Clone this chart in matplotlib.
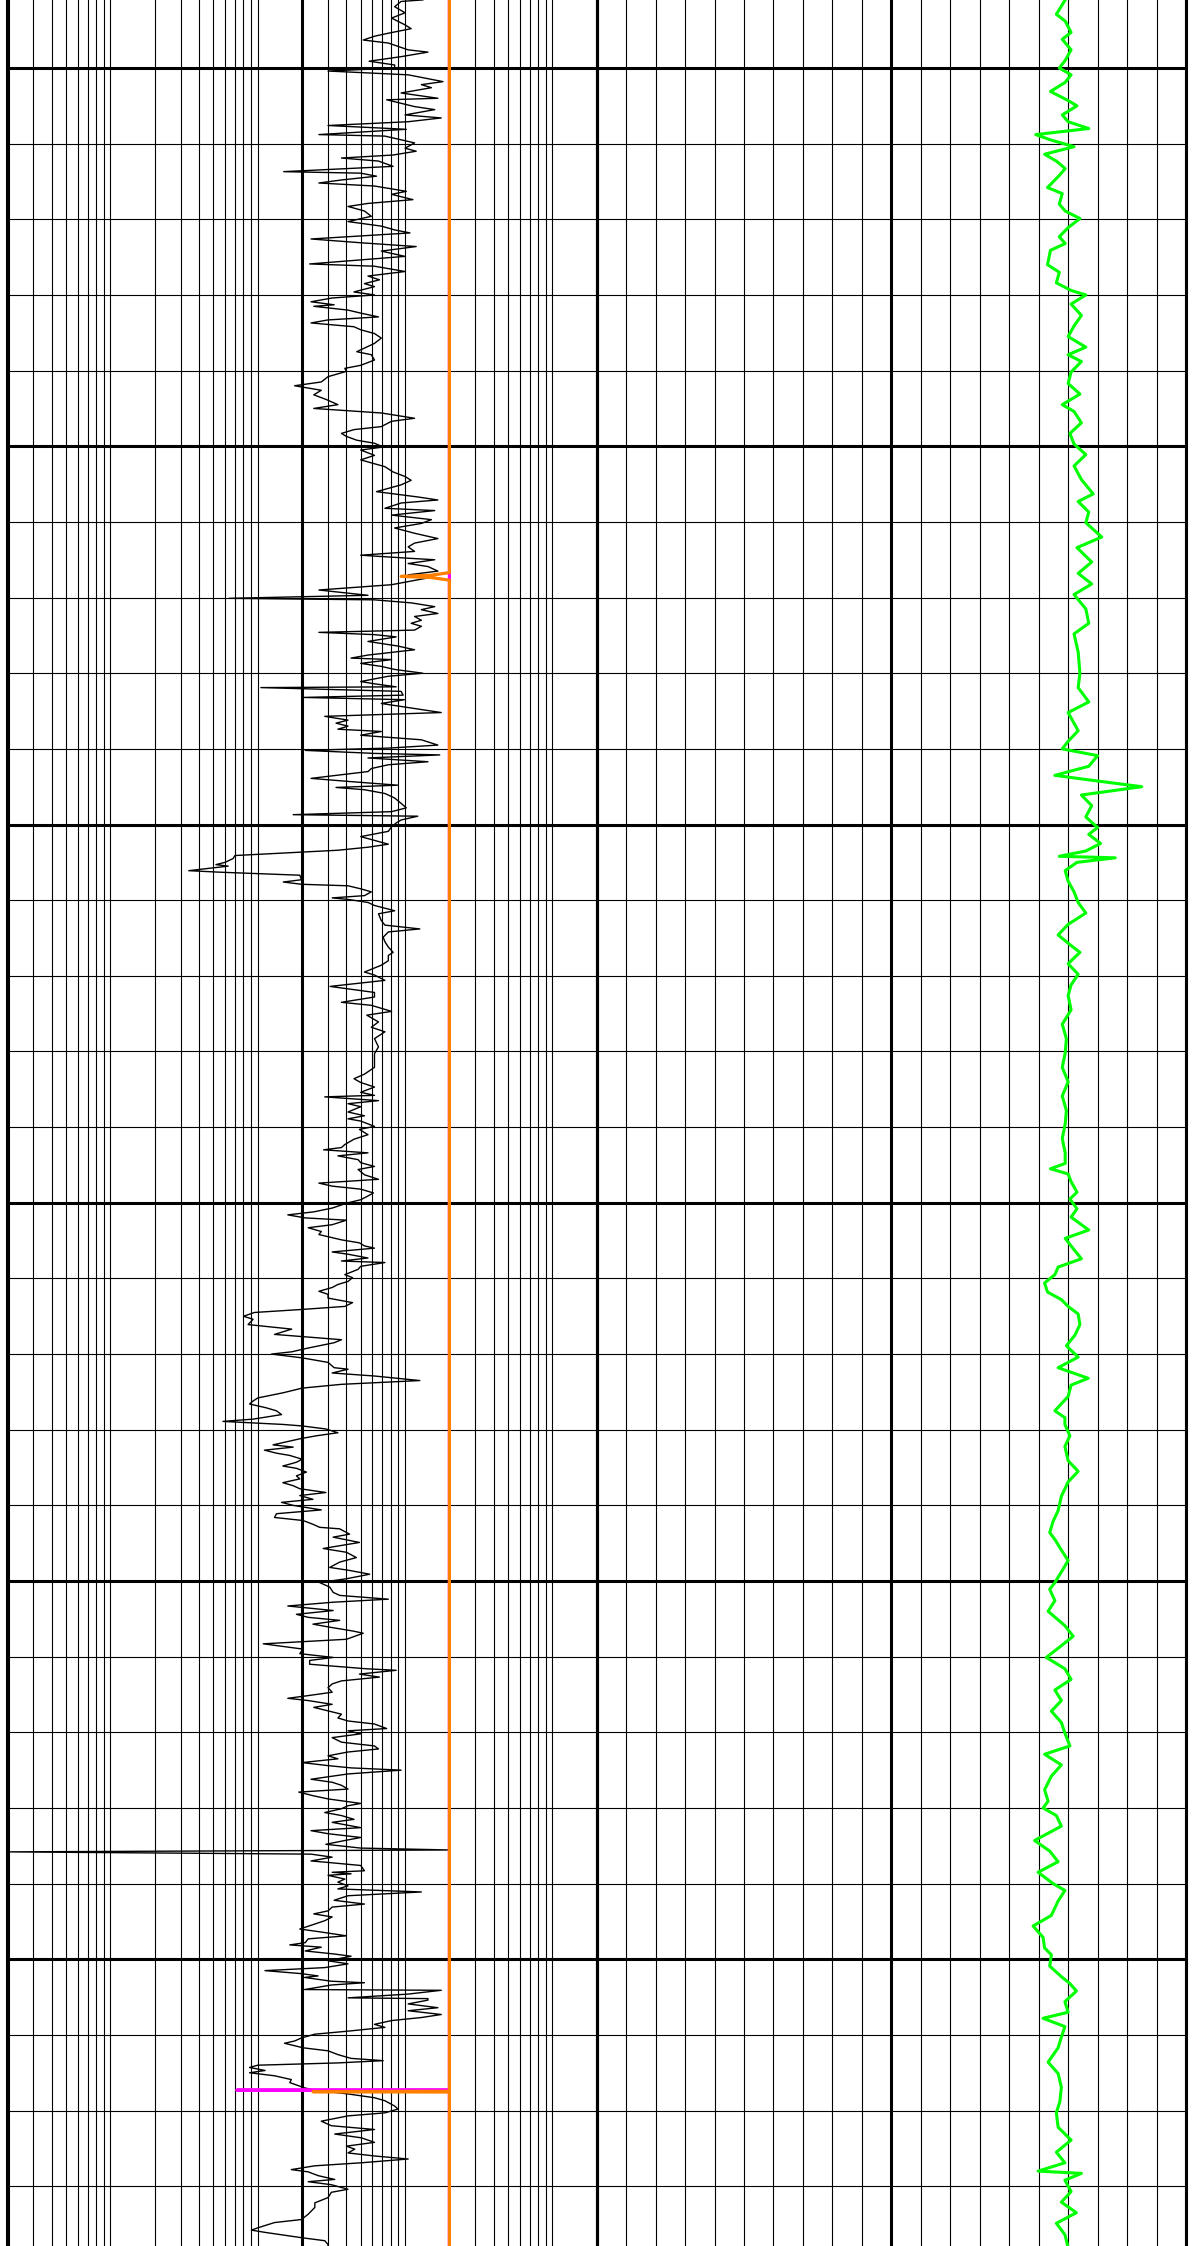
import matplotlib
matplotlib.use("Agg")
import matplotlib.pyplot as plt
from matplotlib.ticker import FixedLocator, NullFormatter

# ---------------- data ----------------
# Resistivity-type curve (log track, black)
res_depth = [
    4.10, 4.12, 4.19, 4.27, 4.34, 4.43, 4.48, 4.54, 4.58, 4.63, 4.67, 4.76, 4.79, 4.85, 4.91, 4.96,
    5.00, 5.04, 5.09, 5.18, 5.22, 5.26, 5.33, 5.40, 5.42, 5.51, 5.55, 5.62, 5.66, 5.71, 5.76, 5.81,
    5.88, 5.90, 5.99, 6.06, 6.10, 6.15, 6.19, 6.23, 6.30, 6.37, 6.39, 6.43, 6.48, 6.52, 6.56, 6.63,
    6.67, 6.74, 6.79, 6.83, 6.89, 6.96, 7.03, 7.09, 7.14, 7.18, 7.26, 7.31, 7.36, 7.42, 7.49, 7.59,
    7.62, 7.69, 7.75,
    7.80, 7.85, 7.89, 7.96, 8.00, 8.04, 8.09, 8.13, 8.15, 8.20, 8.24, 8.29, 8.33, 8.37, 8.42, 8.46,
    8.51, 8.57, 8.64, 8.68, 8.75, 8.79, 8.86, 8.93, 8.97, 9.01, 9.08, 9.15, 9.20, 9.26, 9.32, 9.38,
    9.45, 9.50, 9.56, 9.63, 9.67, 9.74, 9.78, 9.83, 9.87, 9.92, 9.96, 10.01, 10.05, 10.12, 10.18,
    10.27, 10.34, 10.40, 10.45, 10.51, 10.60, 10.67, 10.71, 10.75, 10.82, 10.85, 10.91, 10.97,
    11.02, 11.08, 11.15, 11.22, 11.28, 11.33, 11.39, 11.44, 11.48,
    11.50, 11.55, 11.59, 11.65, 11.70, 11.74, 11.83, 11.90, 11.97, 12.01, 12.03, 12.07, 12.12,
    12.16, 12.21, 12.25, 12.30, 12.34, 12.38, 12.43, 12.46, 12.49, 12.52, 12.58, 12.64, 12.69,
    12.76, 12.80, 12.82, 12.87, 12.91, 12.95, 13.00, 13.04, 13.11, 13.14, 13.18, 13.19, 13.24,
    13.29, 13.32, 13.35, 13.40, 13.44, 13.52, 13.57, 13.62, 13.66, 13.70, 13.74, 13.77, 13.82,
    13.88, 13.95, 13.99, 14.02, 14.06, 14.08, 14.12, 14.17, 14.21, 14.26, 14.30, 14.39, 14.43,
    14.48, 14.51, 14.54, 14.59, 14.65, 14.72, 14.78, 14.83, 14.87, 14.89, 14.94, 14.98, 15.03,
    15.09, 15.16,
    15.21, 15.26, 15.30, 15.34, 15.41, 15.45, 15.50, 15.53, 15.55, 15.61, 15.63, 15.67, 15.73,
    15.76, 15.79, 15.81, 15.85, 15.89, 15.94, 15.97, 15.99, 16.03, 16.07, 16.14, 16.18, 16.27,
    16.33, 16.38, 16.42, 16.49, 16.55, 16.62, 16.69, 16.73, 16.80, 16.86, 16.95, 16.99, 17.06,
    17.14, 17.22, 17.28, 17.35, 17.39, 17.47, 17.52, 17.61, 17.68, 17.74, 17.83, 17.94, 18.03,
    18.12, 18.21, 18.30, 18.36, 18.41, 18.47, 18.54, 18.58, 18.60, 18.65, 18.69, 18.73, 18.80,
    18.85, 18.89,
    18.92, 18.99, 19.03, 19.10, 19.16, 19.23, 19.27, 19.30, 19.34, 19.38, 19.43, 19.47, 19.52,
    19.56, 19.63, 19.69, 19.74, 19.78, 19.82, 19.87, 19.91, 19.96, 20.00, 20.07, 20.12, 20.16,
    20.20, 20.23, 20.29, 20.33, 20.38, 20.42, 20.49, 20.53, 20.57, 20.60, 20.65, 20.68, 20.73,
    20.77, 20.79, 20.84, 20.88, 20.95, 20.99, 21.04, 21.08, 21.12, 21.17, 21.21, 21.26, 21.32,
    21.37, 21.41, 21.45, 21.50, 21.54, 21.61, 21.67, 21.74, 21.81, 21.85, 21.92, 21.97, 22.00,
    22.05, 22.11, 22.18, 22.20, 22.25, 22.29, 22.35, 22.40, 22.45, 22.51, 22.58,
    22.62, 22.66, 22.71, 22.75, 22.80, 22.86, 22.89, 22.93, 22.95, 22.99, 23.04, 23.08, 23.12,
    23.17, 23.20, 23.23, 23.27, 23.31, 23.34, 23.39, 23.43, 23.48, 23.51, 23.56, 23.61, 23.65,
    23.70, 23.74, 23.78, 23.83, 23.87, 23.92, 23.96, 24.00, 24.06, 24.11, 24.16, 24.20, 24.25,
    24.29, 24.31, 24.38, 24.42, 24.49, 24.57, 24.62, 24.69, 24.75, 24.82, 24.86, 24.91, 24.97,
    25.02, 25.08, 25.15, 25.19, 25.24, 25.28, 25.33, 25.39, 25.44, 25.48, 25.52, 25.57, 25.61,
    25.66, 25.69, 25.77, 25.83, 25.90, 25.96, 26.01, 26.05, 26.10, 26.16, 26.18, 26.23, 26.27,
    26.32, 26.36, 26.41, 26.47, 26.52, 26.55, 26.58, 26.63, 26.67, 26.71, 26.76, 26.81, 26.85,
    26.89, 26.95, 26.98, 27.02, 27.07, 27.13, 27.18, 27.22, 27.26, 27.31, 27.35, 27.40, 27.44,
    27.47, 27.50, 27.55, 27.62, 27.66, 27.70, 27.75, 27.79, 27.84, 27.88, 27.94, 27.97, 28.01,
    28.06, 28.10, 28.15, 28.19, 28.26, 28.30, 28.34, 28.39, 28.43, 28.48, 28.53, 28.555, 28.58,
    28.61, 28.65, 28.70, 28.72, 28.76, 28.83, 28.85, 28.87, 28.89, 28.94, 28.98, 29.03, 29.07,
    29.11, 29.16, 29.22, 29.27, 29.31, 29.36, 29.40, 29.44, 29.49, 29.55, 29.60, 29.64, 29.69,
    29.73, 29.78, 29.81, 29.84, 29.89, 29.93, 29.96,
    30.02, 30.06, 30.11, 30.15, 30.19, 30.22, 30.24, 30.29, 30.31, 30.34, 30.37, 30.40, 30.41,
    30.44, 30.46, 30.51, 30.52, 30.54, 30.59, 30.64, 30.68, 30.73, 30.77, 30.81, 30.86, 30.90,
    30.95, 30.99, 31.04, 31.08, 31.11, 31.17, 31.21, 31.26, 31.31, 31.34, 31.37, 31.40, 31.43,
    31.47, 31.50, 31.54, 31.59, 31.63, 31.70, 31.73, 31.78, 31.83, 31.87, 31.94, 31.98, 32.03,
    32.07, 32.14, 32.20, 32.25, 32.31, 32.36, 32.42, 32.47, 32.51, 32.56, 32.60, 32.64, 32.69,
    32.73, 32.78, 32.81, 32.86, 32.91, 32.94, 32.98, 33.04, 33.08, 33.15, 33.22, 33.28, 33.37,
    33.44, 33.48, 33.55, 33.58, 33.61, 33.68, 33.72, 33.77, 33.85,
]
res_value = [
    132, 94, 85, 100, 81, 100, 110, 77, 62, 52, 77, 105, 143, 94, 57, 85,
    85, 30, 105, 181, 129, 151, 94, 167, 75, 116, 159, 100, 176, 105, 30, 102,
    26, 73, 116, 100, 119, 83, 37, 66, 83, 15, 50, 64, 37, 26, 62, 102,
    81, 113, 56, 41, 53, 59, 41, 69, 85, 108, 23, 50, 119, 69, 100, 22.5,
    62, 100, 56,
    67, 53, 62, 45, 62, 32, 23, 33, 24, 41, 50, 66, 30, 23, 45, 50,
    62, 69, 62, 56, 47, 59, 62, 50, 39, 40, 30, 27, 17.8, 27, 24, 29,
    35, 24, 69, 116, 81, 69, 45, 37, 40, 47, 62, 71, 50, 62, 50,
    73, 83, 100, 110, 94, 64, 122, 167, 94, 73, 159, 81, 151,
    129, 85, 116, 167, 116, 105, 116, 50, 105,
    159, 105, 143, 167, 105, 143, 81, 26, 56, 6.4, 62, 110, 159,
    129, 167, 116, 129, 110, 129, 116, 26, 62, 87, 56, 89, 116,
    56, 43, 81, 50, 69, 85, 132, 77, 50, 62, 87, 10.5, 94,
    97, 20.3, 99, 69, 94, 176, 28.5, 41, 34, 41, 35, 69, 50,
    129, 167, 77, 21, 62, 172, 56, 143, 77, 59, 56, 23, 41,
    89, 34, 53, 73, 85, 94, 102, 81, 17.4, 122, 94, 87, 81,
    77, 50,
    62, 77, 56, 35, 7.0, 6.8, 6.0, 5.2, 6.3, 3.4, 5.5, 19.3, 19.8,
    14.9, 19.8, 41, 50, 59, 53, 32, 41, 56, 62, 85, 66, 69,
    73, 126, 77, 71, 73, 77, 83, 77, 77, 69, 53, 62, 73,
    31, 62, 62, 37, 59, 81, 55, 66, 59, 73, 62, 66, 62,
    62, 62, 53, 45, 50, 62, 50, 62, 28.5, 66, 41, 50, 41,
    53, 41,
    50, 62, 49, 56, 45, 39, 37, 28, 56, 35, 48, 50, 62,
    48, 53, 66, 26, 32, 50, 61, 56, 50, 41, 32, 24, 16,
    21, 40, 32, 22, 27, 26, 37, 49, 53, 62, 32, 41, 56,
    37, 73, 50, 48, 39, 44, 41, 35, 32, 26, 30, 30, 44,
    39, 20, 9.5, 8.0, 9.3, 8.6, 17, 13, 37, 33, 22, 17, 12.4,
    20, 30, 33, 41, 32, 62, 126, 37, 20, 15, 10,
    9.3, 8.8, 11.4, 13.4, 14.5, 9.3, 5.8, 14.8, 20, 29, 35, 25, 19.3,
    14.8, 12.7, 17.4, 11.1, 13.4, 16.5, 20, 18.3, 14.8, 18.3, 21.4, 18.3, 19.3,
    14.8, 17.4, 19.3, 29, 19.3, 23.7, 14.5, 17.4, 27, 13.4, 13.0, 20.3, 23.7,
    26.3, 36, 42, 32.5, 49, 27.8, 40, 46.7, 36, 30.8, 42, 57.5, 40,
    26.3, 30.8, 32.5, 36, 77, 32.5, 16, 32.5, 18.3, 22, 36, 23.7, 30.8,
    44, 52, 40, 10.9, 20.3, 19.3, 32.5, 22.5, 22.5, 54.7, 87, 49, 67,
    37, 32, 30, 32, 21, 16, 22, 32, 24, 29, 37, 35, 41,
    62, 75, 41, 50, 32, 37, 62, 66, 41, 30, 35, 20, 30,
    43, 94, 41, 23, 32, 37, 41, 19, 24, 30, 50, 41, 37,
    28.5, 37, 45, 32, 50, 23, 30, 50, 39, 29, 50, 200, 0.2,
    23, 32, 23, 30, 50, 53, 32, 43, 30, 39, 35, 41, 35,
    129, 41, 33, 53, 32, 30, 24, 32, 28.5, 23, 19.3, 27, 40,
    22, 21, 16.5, 27, 21, 33, 43,
    30, 41, 28.5, 11.2, 19.8, 25.7, 20.8, 31.6, 53, 31.6, 25.7, 20.8, 176,
    129, 105, 41, 143, 143, 105, 167, 105, 176, 129, 81, 62, 73,
    41, 24.4, 19.8, 17.8, 15.2, 20.3, 30, 35, 43, 71, 35, 10, 8.8,
    11.2, 8.8, 13, 16.9, 16.5, 20.8, 24.4, 41, 62, 73, 85, 89.5, 73,
    41, 27, 31.6, 62, 33.3, 50.5, 62, 40, 45.5, 41, 62, 105, 50.5,
    24.4, 16.9, 22, 25.7, 33.3, 22, 31.6, 41, 31.6, 30, 24.4, 24.4, 22,
    19.8, 13, 10, 9.06, 11.2, 19.8, 28.5, 30, 30,
]

# Orange and magenta curves (log track)
orange_depth = [4.0, 11.67, 11.705, 11.72, 11.735, 11.77, 31.745, 31.75, 31.755, 34.0]
orange_value = [200, 200, 150, 94, 150, 200, 200, 23.7, 200, 200]
magenta_depth = [4.0, 31.725, 31.73, 31.735, 34.0]
magenta_value = [200, 200, 7.2, 200, 200]

# Green curve (linear track)
gr_depth = [
    4.10, 4.29, 4.38, 4.53, 4.62, 4.76, 4.90, 5.00, 5.09, 5.19, 5.31, 5.43, 5.50, 5.62, 5.71,
    5.80, 5.88, 5.95, 6.04, 6.14, 6.23, 6.33, 6.42, 6.58, 6.66, 6.80, 6.89, 6.99, 7.11, 7.23,
    7.32, 7.41, 7.60, 7.70, 7.84, 7.94, 8.00, 8.12, 8.27, 8.41, 8.55, 8.69, 8.79, 8.88, 9.02,
    9.17, 9.31, 9.45, 9.54, 9.69, 9.83, 9.97, 10.11, 10.26, 10.44, 10.63, 10.73, 10.87, 11.01,
    11.20, 11.34, 11.53, 11.68, 11.82, 11.96, 12.15, 12.34, 12.48, 12.72, 13.00, 13.19, 13.38,
    13.52, 13.76, 13.90, 14.00, 14.09, 14.23, 14.35, 14.42, 14.50, 14.61, 14.75, 14.90, 15.04,
    15.13, 15.25, 15.35, 15.42, 15.44, 15.50, 15.61, 15.75, 15.89, 16.03, 16.17, 16.32, 16.46,
    16.60, 16.69, 16.84, 16.98, 17.12, 17.26, 17.45, 17.64, 17.83, 18.02, 18.21, 18.40, 18.59,
    18.78,
    18.96, 19.15, 19.34, 19.48, 19.55, 19.62, 19.72, 19.86, 19.95, 20.08, 20.19, 20.36, 20.47,
    20.62, 20.74, 20.85, 20.95, 21.06, 21.18, 21.28, 21.37, 21.47, 21.61, 21.75, 21.89, 22.04,
    22.18, 22.32, 22.41, 22.56, 22.75, 22.84, 22.93, 23.08, 23.22, 23.41, 23.55, 23.69, 23.88,
    24.07, 24.21, 24.36, 24.45, 24.59, 24.73, 24.88, 25.02, 25.11, 25.26, 25.40, 25.59, 25.73,
    25.87, 26.01, 26.16, 26.30, 26.44, 26.58, 26.72, 26.87, 27.01, 27.18, 27.29, 27.43, 27.58,
    27.76, 27.91, 28.00, 28.10, 28.24, 28.43, 28.57, 28.71, 28.85, 29.00, 29.09, 29.23, 29.42,
    29.56, 29.71, 29.85, 29.94, 30.09, 30.23, 30.32, 30.42, 30.56, 30.70, 30.78, 30.89, 31.03,
    31.17, 31.36, 31.51, 31.69, 31.88, 32.03, 32.22, 32.39, 32.55, 32.69, 32.80, 32.83, 32.92,
    33.07, 33.21, 33.35, 33.49, 33.64, 33.81,
]
gr_value = [
    159, 156, 159, 161, 158, 161, 159, 157, 161, 159, 154, 160, 163, 158, 160,
    167, 149, 154, 162, 152, 156, 159, 157, 153, 158, 157, 159, 164, 160, 157,
    159, 154, 153, 157, 156, 161, 166, 161, 164.5, 162, 160, 166, 160, 164.5, 161,
    160, 164, 158, 162, 164.5, 160.6, 162, 166, 162, 164.5, 168.5, 163.4, 167, 166,
    171.4, 163, 168, 163.4, 168, 162, 166, 167, 162, 163.4, 164, 163.4, 167,
    160, 163.4, 160, 158, 170, 167, 155.5, 169, 185, 164.5, 168, 166, 170,
    167, 171, 166, 157, 176, 163, 159, 160, 162, 163.4, 166, 160, 156.6,
    161, 164, 160, 163.4, 161, 160, 161, 158, 159.4, 159, 158, 160, 158,
    159.4,
    159, 158, 159, 159, 154, 160, 161, 163, 160.6, 163, 161, 167, 159,
    162, 164.5, 156.6, 155.5, 152, 153, 157.7, 160, 163.4, 164, 162.3, 159.4, 163.4,
    156.6, 166.8, 161, 160, 155.5, 158.9, 158.9, 160.6, 158.9, 160, 163.4, 160, 157.7,
    156.6, 154.9, 153.75, 155.5, 157.7, 160, 157.7, 155.5, 153.75, 155.5, 153.2, 158.9, 161.7,
    157.2, 152.6, 158.9, 161, 155.5, 157.7, 154.3, 157.7, 158.9, 160.6, 152, 157.7, 154.3,
    152, 153.2, 151.5, 156, 157.7, 148.6, 153.75, 156.6, 149.8, 154.9, 158.9, 156.6, 154.3,
    148.1, 151.5, 152, 154.3, 153.75, 157.7, 160.6, 162.8, 158.9, 160, 151.5, 158.9, 157.7,
    156.6, 153.2, 156.6, 157.7, 157.2, 156, 156.6, 161, 156, 158.9, 149.8, 164.5, 158.9,
    161, 157.7, 162.8, 156, 158.9, 160,
]

# axis ranges and grid values
log_range = (0.2, 2000)
lin_range = (0, 200)
depth_top, depth_bottom = 4.101, 33.79
log_major = [0.2, 20, 2000]
log_minor = [m * 10.0 ** e for e in range(-1, 4) for m in range(1, 10)
             if 0.2 < m * 10.0 ** e < 2000 and m * 10.0 ** e not in (20,)]
lin_major = [0, 100, 200]
lin_minor = list(range(10, 200, 10))
depth_major = [5, 10, 15, 20, 25, 30]
depth_minor = [d for d in range(4, 35) if d % 5 != 0]

# ---------------- figure ----------------
W, H = 1192, 2246
fig = plt.figure(figsize=(W / 100, H / 100), dpi=100)
x0, xm, x1 = 7.5 / W, 596.7 / W, 1186.0 / W
ax1 = fig.add_axes([x0, 0, xm - x0, 1])
ax2 = fig.add_axes([xm, 0, x1 - xm, 1])

BOLD = 2.2
THIN = 0.8

ax1.set_xscale("log")
ax1.set_xlim(*log_range)
ax2.set_xlim(*lin_range)

for ax, major, minor in ((ax1, log_major, log_minor), (ax2, lin_major, lin_minor)):
    ax.set_ylim(depth_bottom, depth_top)
    ax.xaxis.set_major_locator(FixedLocator(major))
    ax.xaxis.set_minor_locator(FixedLocator(minor))
    ax.yaxis.set_major_locator(FixedLocator(depth_major))
    ax.yaxis.set_minor_locator(FixedLocator(depth_minor))
    for axis in (ax.xaxis, ax.yaxis):
        axis.set_major_formatter(NullFormatter())
        axis.set_minor_formatter(NullFormatter())
    ax.tick_params(which="both", length=0)
    ax.grid(which="major", color="black", lw=BOLD)
    ax.grid(which="minor", color="black", lw=THIN)
    ax.set_axisbelow(True)
    for s in ("top", "bottom"):
        ax.spines[s].set_visible(False)
    for s in ("left", "right"):
        ax.spines[s].set_linewidth(BOLD)
    ax.patch.set_alpha(0)

ax1.plot(res_value, res_depth, color="black", lw=1.0, zorder=3)
ax1.plot(magenta_value, magenta_depth, color="#ff00ff", lw=2.3, zorder=4)
ax1.plot(orange_value, orange_depth, color="#ff8000", lw=2.3, zorder=5)
ax2.plot(gr_value, gr_depth, color="#00ff00", lw=2.2, zorder=3)

fig.savefig("out.png", dpi=100)
